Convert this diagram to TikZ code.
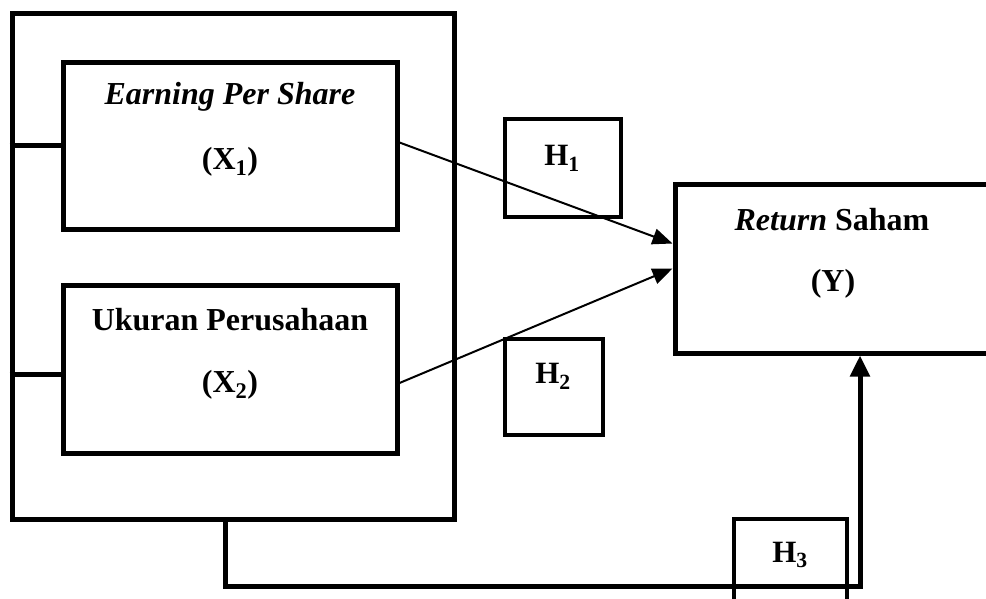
\documentclass[tikz,border=0pt]{standalone}
\usepackage{fontspec}
\setmainfont{Liberation Serif}
\usepackage{tikz}
\usetikzlibrary{arrows.meta,positioning}
\definecolor{hypLine}{HTML}{000000}
\tikzset{
  groupbox/.style={
    rectangle,
    draw=hypLine,
    line width=5pt,
    inner sep=0pt,
    minimum width=442pt,
    minimum height=506pt
  },
  varbox/.style={
    rectangle,
    draw=hypLine,
    line width=5pt,
    inner sep=0pt,
    minimum width=334pt,
    minimum height=167pt
  },
  hypbox/.style={
    rectangle,
    draw=hypLine,
    line width=3.5pt,
    inner sep=0pt
  },
  vartext/.style={font=\fontsize{32}{38}\selectfont\bfseries, inner sep=0pt},
  hyptext/.style={font=\fontsize{31}{36}\selectfont\bfseries, inner sep=0pt},
  link/.style={draw=hypLine, line width=5pt},
  arrow/.style={-{Triangle[length=20pt,width=16pt]}, line width=2pt, draw=hypLine},
  thickarrow/.style={-{Triangle[length=21pt,width=19pt]}, line width=5pt, draw=hypLine}
}

\begin{document}
\begin{tikzpicture}[x=1pt, y=-1pt]
  \useasboundingbox (0,0) rectangle (986,598);
  \clip (0,0) rectangle (986,598);
  % independent variables
  \node[groupbox] (group) at (233,266) {};
  \node[varbox] (eps) at (230,145.5) {};
  \node[varbox, minimum height=168pt] (size) at (230,369) {};
  \node[vartext] (epsname) at (230,97) {\textit{Earning Per Share}};
  \node[vartext] (epssym) at (230,162) {(X\textsubscript{1})};
  \node[vartext] (sizename) at (230,320) {Ukuran Perusahaan};
  \node[vartext] (sizesym) at (230,385) {(X\textsubscript{2})};
  % dependent variable
  \node[varbox, minimum width=370pt, minimum height=169pt] (ret) at (860,268.5) {};
  \node[vartext] (retname) at (832,220) {\textit{Return} Saham};
  \node[vartext] (retsym) at (833,284) {(Y)};
  % hypotheses
  \node[hypbox, minimum width=116pt, minimum height=98pt] (h1) at (563,168) {};
  \node[hyptext] (h1text) at (562,158) {H\textsubscript{1}};
  \node[hypbox, minimum width=98pt, minimum height=96pt] (h2) at (554,387) {};
  \node[hyptext] (h2text) at (553,376) {H\textsubscript{2}};
  \node[hypbox, minimum width=113pt, minimum height=100pt] (h3) at (790.5,569) {};
  \node[hyptext] (h3text) at (790,555) {H\textsubscript{3}};
  \coordinate (bend) at (225,586);
  \draw[link] (group.west |- eps.west) -- (eps.west);
  \draw[link] ([yshift=-5pt]group.west |- size.west) -- ([yshift=-5pt]size.west);
  \draw[arrow] ([yshift=3pt]eps.east) -- ([yshift=25pt]ret.west);
  \draw[arrow] ([yshift=-14pt]size.east) -- (ret.west);
  \draw[thickarrow] ([xshift=-8pt]group.south) -- (bend) -| (ret.south);
\end{tikzpicture}
\end{document}
